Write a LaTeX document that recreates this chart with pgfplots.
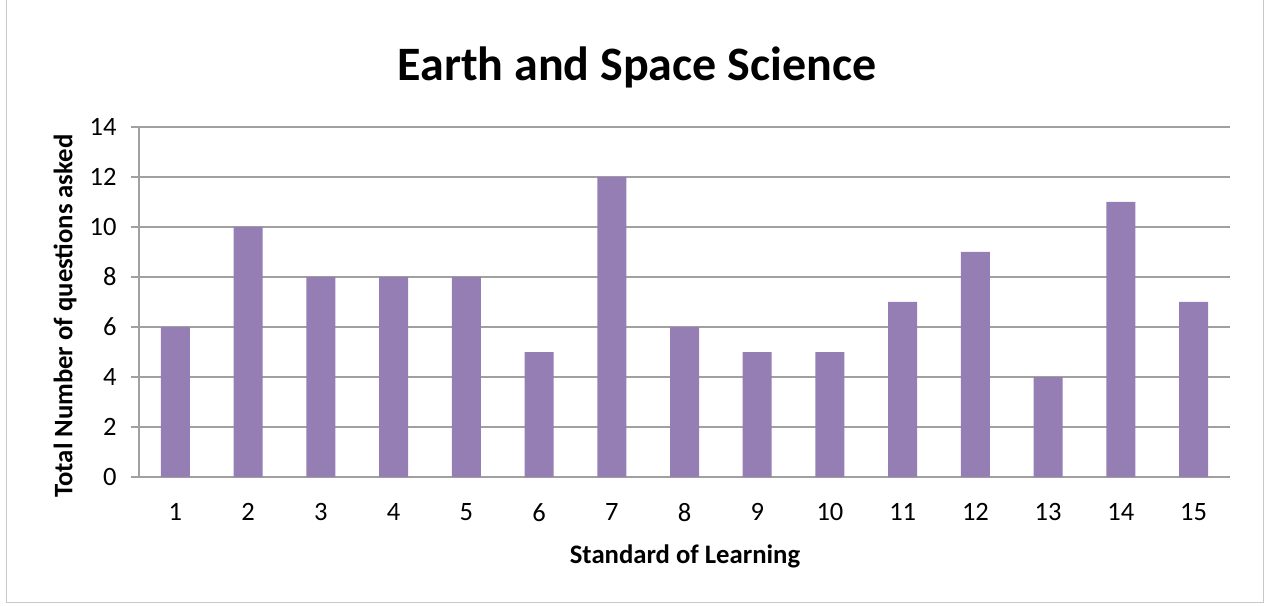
\documentclass[border=0pt]{standalone}
\usepackage{pgfplots}
\pgfplotsset{compat=1.18}
\usepackage{fontspec}
\setmainfont{Carlito}
\definecolor{barpurple}{RGB}{148,126,180}
\definecolor{gridgray}{RGB}{160,160,160}
\definecolor{framegray}{RGB}{200,200,200}
\begin{document}
\begin{tikzpicture}
\useasboundingbox (-139pt,-128pt) rectangle (1126pt,477pt);
\draw[framegray, line width=1pt] (-132pt,-125pt) rectangle (1124pt,477pt);
\begin{axis}[
  at={(0pt,0pt)}, anchor=origin,
  scale only axis,
  width=1091pt, height=350pt,
  xmin=0.5, xmax=15.5,
  ymin=0, ymax=14,
  ytick={0,2,...,14},
  xtick={1,...,15},
  axis lines=left,
  axis line style={-, gridgray, line width=1.2pt},
  ymajorgrids,
  grid style={gridgray, line width=1.2pt},
  x tick style={draw=none},
  y tick style={gridgray, line width=1.2pt},
  tick align=outside,
  major tick length=8pt,
  tick label style={font=\fontsize{26.5}{30}\selectfont},
  /pgf/number format/assume math mode=true,
  xticklabel shift=15pt,
  yticklabel shift=11pt,
  clip=false,
]
\addplot[ybar, bar width=29pt, fill=barpurple, draw=none] coordinates {
(1,6) (2,10) (3,8) (4,8) (5,8) (6,5) (7,12) (8,6) (9,5) (10,5) (11,7) (12,9) (13,4) (14,11) (15,7)
};
\end{axis}
\node[font=\fontsize{48}{56}\selectfont\bfseries] at (498pt,410pt) {Earth and Space Science};
\node[font=\fontsize{26.7}{30}\selectfont\bfseries, rotate=90] at (-74pt,161pt) {Total Number of questions asked};
\node[font=\fontsize{26.7}{30}\selectfont\bfseries] at (546pt,-79pt) {Standard of Learning};
\end{tikzpicture}
\end{document}
